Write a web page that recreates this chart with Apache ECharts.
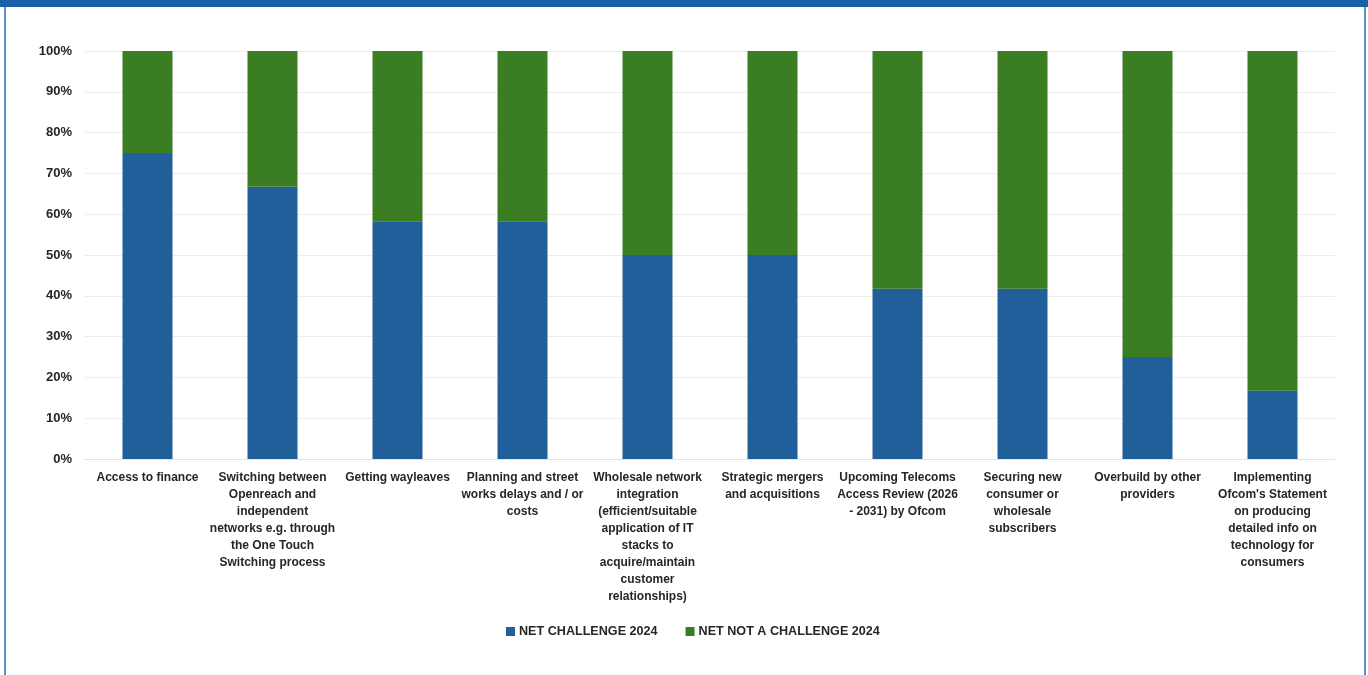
<!DOCTYPE html>
<html><head><meta charset="utf-8">
<script src="https://cdn.jsdelivr.net/npm/echarts@6/dist/echarts.min.js"></script>
<style>html,body{margin:0;padding:0;background:#fff}#c{width:1368px;height:675px}</style>
</head><body><div id="c"></div>
<script>
const categories = [
  "Access to finance",
  "Switching between\nOpenreach and\nindependent\nnetworks e.g. through\nthe One Touch\nSwitching process",
  "Getting wayleaves",
  "Planning and street\nworks delays and / or\ncosts",
  "Wholesale network\nintegration\n(efficient/suitable\napplication of IT\nstacks to\nacquire/maintain\ncustomer\nrelationships)",
  "Strategic mergers\nand acquisitions",
  "Upcoming Telecoms\nAccess Review (2026\n- 2031) by Ofcom",
  "Securing new\nconsumer or\nwholesale\nsubscribers",
  "Overbuild by other\nproviders",
  "Implementing\nOfcom's Statement\non producing\ndetailed info on\ntechnology for\nconsumers"
];
const netChallenge = [75, 66.7, 58.3, 58.3, 50, 50, 41.7, 41.7, 25, 16.7];
const netNotChallenge = [25, 33.3, 41.7, 41.7, 50, 50, 58.3, 58.3, 75, 83.3];
const seriesNames = ["NET CHALLENGE 2024", "NET NOT A CHALLENGE 2024"];

const chart = echarts.init(document.getElementById('c'), null, {renderer: 'canvas'});
const font = '"Liberation Sans", Arial, sans-serif';
chart.setOption({
  animation: false,
  backgroundColor: '#ffffff',
  textStyle: {fontFamily: font},
  graphic: [
    {type: 'rect', left: 0, top: 0, shape: {width: 1368, height: 7}, style: {fill: '#175fa8'}},
    {type: 'rect', left: 4, top: 7, shape: {width: 2, height: 668}, style: {fill: '#5b8fd0'}},
    {type: 'rect', left: 1364, top: 7, shape: {width: 2, height: 668}, style: {fill: '#5b8fd0'}}
  ],
  grid: {left: 85, right: 33, top: 51, bottom: 216, containLabel: false},
  legend: {
    top: 620, left: 501,
    itemWidth: 9, itemHeight: 9, itemGap: 28,
    icon: 'rect',
    textStyle: {fontSize: 12.6, fontWeight: 'bold', color: '#262626', fontFamily: font, padding: [0, 0, 0, -1]},
    data: seriesNames
  },
  xAxis: {
    type: 'category', data: categories,
    axisTick: {show: false},
    axisLine: {lineStyle: {color: '#d9e5f3', width: 1}},
    axisLabel: {interval: 0, fontSize: 12, fontWeight: 'bold', color: '#262626', lineHeight: 17, margin: 10, fontFamily: font}
  },
  yAxis: {
    type: 'value', min: 0, max: 100, interval: 10,
    axisLine: {show: false}, axisTick: {show: false},
    splitLine: {lineStyle: {color: '#ececec'}},
    axisLabel: {formatter: '{value}%', fontSize: 13, fontWeight: 'bold', color: '#262626', margin: 13, fontFamily: font}
  },
  series: [
    {name: seriesNames[0], type: 'bar', stack: 't', data: netChallenge, barWidth: '40%', itemStyle: {color: '#215f9a'}},
    {name: seriesNames[1], type: 'bar', stack: 't', data: netNotChallenge, barWidth: '40%', itemStyle: {color: '#3b7d23'}}
  ]
});
</script></body></html>
